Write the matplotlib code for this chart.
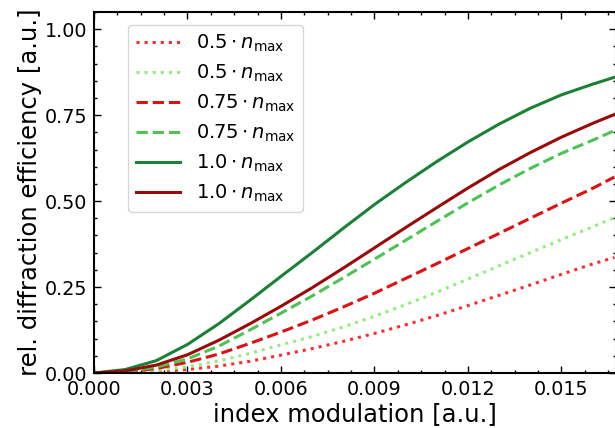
import matplotlib
matplotlib.use("Agg")
import matplotlib.pyplot as plt
from matplotlib.ticker import MultipleLocator

# index modulation samples
index_mod = [0.0, 0.001, 0.002, 0.003, 0.004, 0.005, 0.006, 0.007, 0.008,
             0.009, 0.010, 0.011, 0.012, 0.013, 0.014, 0.015, 0.016, 0.0167]

# relative diffraction efficiency per configuration
eff_red_050 = [0.0, 0.001, 0.004, 0.010, 0.020, 0.034, 0.052, 0.071, 0.092,
               0.115, 0.140, 0.167, 0.196, 0.226, 0.256, 0.287, 0.317, 0.336]
eff_green_050 = [0.0, 0.001, 0.007, 0.018, 0.035, 0.057, 0.082, 0.106, 0.134,
                 0.165, 0.199, 0.235, 0.273, 0.312, 0.350, 0.388, 0.425, 0.452]
eff_red_075 = [0.0, 0.003, 0.013, 0.031, 0.055, 0.086, 0.119, 0.154, 0.192,
               0.232, 0.275, 0.318, 0.362, 0.406, 0.450, 0.494, 0.537, 0.570]
eff_green_075 = [0.0, 0.004, 0.017, 0.041, 0.078, 0.125, 0.174, 0.224, 0.277,
                 0.331, 0.386, 0.441, 0.495, 0.547, 0.595, 0.639, 0.677, 0.705]
eff_green_100 = [0.0, 0.010, 0.036, 0.083, 0.143, 0.211, 0.281, 0.350, 0.421,
                 0.490, 0.554, 0.615, 0.672, 0.724, 0.770, 0.809, 0.840, 0.860]
eff_red_100 = [0.0, 0.006, 0.023, 0.053, 0.095, 0.143, 0.194, 0.248, 0.305,
               0.364, 0.423, 0.481, 0.538, 0.592, 0.641, 0.686, 0.726, 0.752]

labels = [r"$0.5 \cdot n_\mathrm{max}$", r"$0.5 \cdot n_\mathrm{max}$",
          r"$0.75 \cdot n_\mathrm{max}$", r"$0.75 \cdot n_\mathrm{max}$",
          r"$1.0 \cdot n_\mathrm{max}$", r"$1.0 \cdot n_\mathrm{max}$"]

plt.rcParams["mathtext.fontset"] = "dejavusans"

fig = plt.figure(figsize=(6.15, 4.28), dpi=100)
ax = fig.add_axes([0.1528, 0.1285, 0.8488, 0.8435])

lw = 2.2
ax.plot(index_mod, eff_red_050, ":", color="#ff2b2b", lw=lw, label=labels[0])
ax.plot(index_mod, eff_green_050, ":", color="#90ee80", lw=lw, label=labels[1])
ax.plot(index_mod, eff_red_075, "--", color="#dd1111", lw=lw, label=labels[2])
ax.plot(index_mod, eff_green_075, "--", color="#4cc453", lw=lw, label=labels[3])
ax.plot(index_mod, eff_green_100, "-", color="#1b8136", lw=lw, label=labels[4])
ax.plot(index_mod, eff_red_100, "-", color="#990a0a", lw=lw, label=labels[5])

ax.set_xlim(0, 0.01675)
ax.set_ylim(0, 1.05)

ax.xaxis.set_major_locator(MultipleLocator(0.003))
ax.xaxis.set_minor_locator(MultipleLocator(0.00075))
ax.yaxis.set_major_locator(MultipleLocator(0.25))
ax.yaxis.set_minor_locator(MultipleLocator(0.05))
ax.xaxis.set_major_formatter(plt.FormatStrFormatter("%.3f"))
ax.yaxis.set_major_formatter(plt.FormatStrFormatter("%.2f"))

ax.tick_params(which="both", direction="in", top=True, right=True,
               labelsize=13.8, width=1.0)
ax.tick_params(which="major", length=5, pad=5)
ax.tick_params(which="minor", length=2.5)
for spine in ax.spines.values():
    spine.set_linewidth(1.5)

ax.set_xlabel("index modulation [a.u.]", fontsize=17.5, labelpad=2)
ax.set_ylabel("rel. diffraction efficiency [a.u.]", fontsize=17.5, labelpad=2)

ax.legend(loc="upper left", bbox_to_anchor=(0.065, 0.964), borderaxespad=0,
          fontsize=14, handlelength=2.3, labelspacing=0.45, frameon=True)

fig.savefig("out.png", dpi=100)
plt.close(fig)
